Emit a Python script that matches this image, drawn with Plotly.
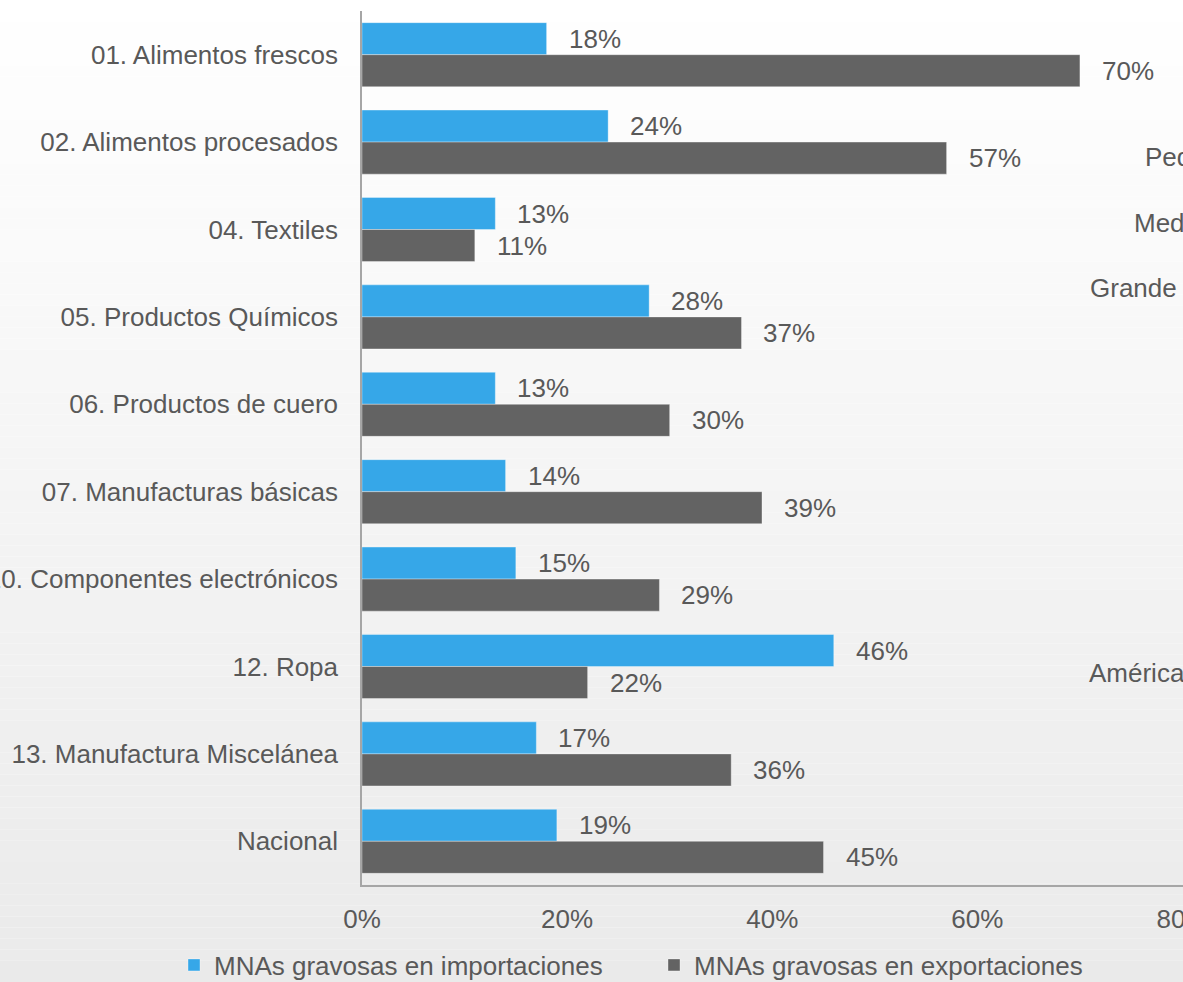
import plotly.graph_objects as go

# Sector categories, top to bottom
categories = [
    "01. Alimentos frescos",
    "02. Alimentos procesados",
    "04. Textiles",
    "05. Productos Químicos",
    "06. Productos de cuero",
    "07. Manufacturas básicas",
    "10. Componentes electrónicos",
    "12. Ropa",
    "13. Manufactura Miscelánea",
    "Nacional",
]

# Share of burdensome NTMs (fractions)
importaciones = [0.18, 0.24, 0.13, 0.28, 0.13, 0.14, 0.15, 0.46, 0.17, 0.19]
exportaciones = [0.70, 0.57, 0.11, 0.37, 0.30, 0.39, 0.29, 0.22, 0.36, 0.45]

series_names = ["MNAs gravosas en importaciones", "MNAs gravosas en exportaciones"]
x_ticks = [0, 0.2, 0.4, 0.6, 0.8]

# Side labels from the adjacent panel
side_labels = ["Pequeña", "Mediana", "Grande", "América"]

BLUE = "#36A7E8"
GRAY = "#636363"
TEXT = "#595959"
FONT = "Liberation Sans, Arial, sans-serif"

W, H = 1183, 982
ML, MR, MT, MB = 362, 0, 11, 97
PW, PH = W - ML - MR, H - MT - MB


def px_to_paper_x(px):
    return (px - ML) / PW


def px_to_paper_y(py):
    return (H - MB - py) / PH


fig = go.Figure()
fig.add_trace(go.Bar(
    y=categories, x=importaciones, orientation="h", name=series_names[0],
    marker=dict(color=BLUE, line=dict(color="rgba(255,255,255,0.35)", width=1)),
    hoverinfo="x+y",
))
fig.add_trace(go.Bar(
    y=categories, x=exportaciones, orientation="h", name=series_names[1],
    marker=dict(color=GRAY, line=dict(color="rgba(255,255,255,0.35)", width=1)),
    hoverinfo="x+y",
))

# Value labels at the end of each bar
annotations = []
for vals, shift in ((importaciones, 16), (exportaciones, -16)):
    for cat, v in zip(categories, vals):
        annotations.append(dict(
            x=v, y=cat, xref="x", yref="y", text=f"{round(v * 100)}%",
            showarrow=False, xanchor="left", yanchor="middle",
            xshift=20, yshift=shift,
            font=dict(family=FONT, size=26, color=TEXT),
        ))

side_pos = [(1143, 157), (1132, 223), (1088, 288), (1087, 673)]
for txt, (px, py) in zip(side_labels, side_pos):
    annotations.append(dict(
        x=px_to_paper_x(px), y=px_to_paper_y(py), xref="paper", yref="paper",
        text=txt, showarrow=False, xanchor="left", yanchor="middle",
        font=dict(family=FONT, size=26, color=TEXT),
    ))

# Vertical background gradient: white at the top to light gray at the bottom
shapes = []
n_bands = 90
for i in range(n_bands):
    t0 = i / n_bands
    t1 = (i + 1) / n_bands
    tm = (t0 + t1) / 2
    c = round(255 - 21 * tm)
    shapes.append(dict(
        type="rect", xref="paper", yref="paper", layer="below",
        x0=-1, x1=2,
        y0=px_to_paper_y(t1 * H), y1=px_to_paper_y(t0 * H),
        fillcolor=f"rgb({c},{c},{c})", line=dict(width=0),
    ))

fig.update_layout(
    width=W, height=H,
    margin=dict(l=ML, r=MR, t=MT, b=MB, autoexpand=False),
    paper_bgcolor="white",
    plot_bgcolor="rgba(0,0,0,0)",
    barmode="group",
    bargap=0.267,
    bargroupgap=0,
    font=dict(family=FONT, size=26, color=TEXT),
    shapes=shapes,
    annotations=annotations,
    showlegend=True,
    legend=dict(
        orientation="h", x=px_to_paper_x(174), y=px_to_paper_y(965),
        xanchor="left", yanchor="middle",
        font=dict(family=FONT, size=26, color=TEXT),
        itemwidth=30, entrywidth=435, bgcolor="rgba(0,0,0,0)",
        traceorder="normal",
    ),
    xaxis=dict(
        range=[0, 0.8005], tickvals=x_ticks, tickformat=".0%",
        showgrid=False, zeroline=False,
        showline=True, linecolor="#a6a6a6", linewidth=2,
        ticks="outside", ticklen=10, tickcolor="rgba(0,0,0,0)",
        ticklabeloverflow="allow",
        tickfont=dict(family=FONT, size=26, color=TEXT),
        automargin=False, fixedrange=True,
    ),
    yaxis=dict(
        categoryorder="array", categoryarray=categories, autorange="reversed",
        showgrid=False, zeroline=False,
        showline=True, linecolor="#a6a6a6", linewidth=1.5,
        ticks="outside", ticklen=17, tickcolor="rgba(0,0,0,0)",
        tickfont=dict(family=FONT, size=26, color=TEXT),
        automargin=False, fixedrange=True,
    ),
)

fig.write_html("out.html")
